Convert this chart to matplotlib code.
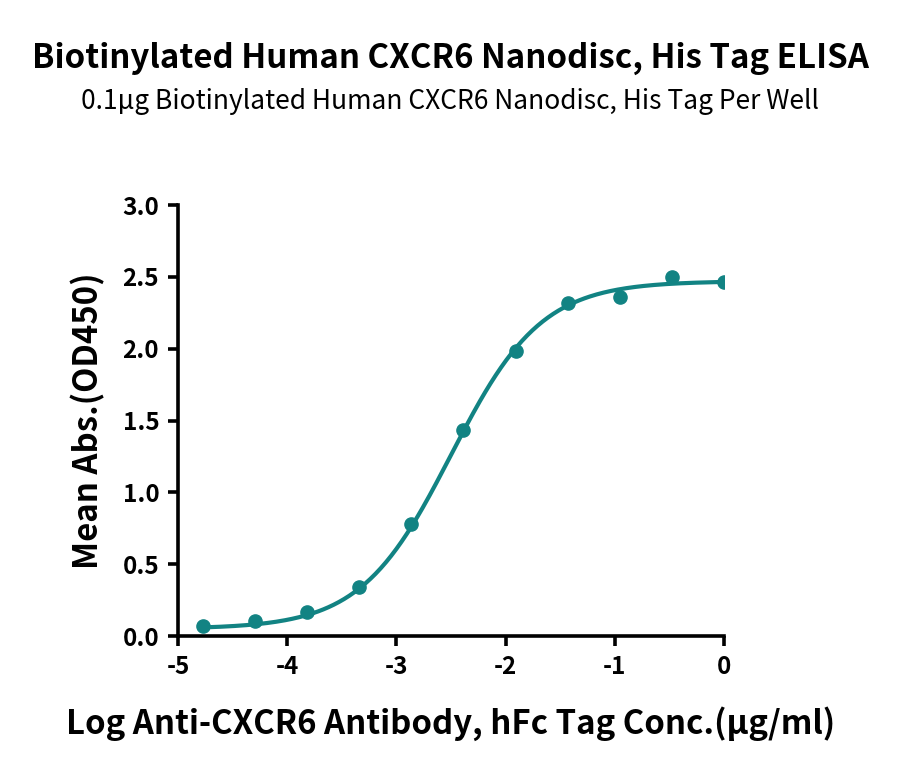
import numpy as np
import matplotlib
matplotlib.use("Agg")
import matplotlib.pyplot as plt

plt.rcParams['font.family'] = ['Noto Sans CJK SC', 'DejaVu Sans']

# log10 concentration (ug/ml), 3-fold dilutions
log_conc = [-4.771, -4.294, -3.817, -3.340, -2.863, -2.386, -1.908, -1.431, -0.954, -0.477, 0.0]
od450 = [0.072, 0.104, 0.167, 0.341, 0.779, 1.434, 1.983, 2.317, 2.359, 2.498, 2.463]

# 4PL fit parameters
fit_bottom = 0.05
fit_top = 2.47
fit_logec50 = -2.50
fit_hill = 1.05

color = '#128383'

fig = plt.figure(figsize=(9, 7.78), dpi=100)
ax = fig.add_axes([0.1978, 0.1825, 0.6066, 0.554])

xs = np.linspace(min(log_conc), max(log_conc), 300)
ys = fit_bottom + (fit_top - fit_bottom) / (1 + 10 ** ((fit_logec50 - xs) * fit_hill))
ax.plot(xs, ys, color=color, lw=3)
ax.plot(log_conc, od450, 'o', color=color, ms=9.5)

ax.set_xlim(-5, 0)
ax.set_ylim(0, 3.0)
ax.set_xticks([-5, -4, -3, -2, -1, 0])
ax.set_xticklabels(['-5', '-4', '-3', '-2', '-1', '0'])
ax.set_yticks([0, 0.5, 1.0, 1.5, 2.0, 2.5, 3.0])
ax.set_yticklabels(['0.0', '0.5', '1.0', '1.5', '2.0', '2.5', '3.0'])

for s in ['top', 'right']:
    ax.spines[s].set_visible(False)
for s in ['left', 'bottom']:
    ax.spines[s].set_linewidth(2.6)
ax.tick_params(width=2.6, length=7.5, labelsize=17.5, pad=6)
for lab in ax.get_xticklabels() + ax.get_yticklabels():
    lab.set_fontweight('bold')

ax.set_xlabel('Log Anti-CXCR6 Antibody, hFc Tag Conc.(\u03bcg/ml)', fontsize=23.7, fontweight='bold', labelpad=20)
ax.set_ylabel('Mean Abs.(OD450)', fontsize=23.7, fontweight='bold', labelpad=12)

fig.text(0.5, 0.925, 'Biotinylated Human CXCR6 Nanodisc, His Tag ELISA', ha='center', va='center',
         fontsize=23.8, fontweight='bold')
fig.text(0.5, 0.870, '0.1\u03bcg Biotinylated Human CXCR6 Nanodisc, His Tag Per Well', ha='center', va='center',
         fontsize=19)

fig.savefig('out.png', dpi=100)
